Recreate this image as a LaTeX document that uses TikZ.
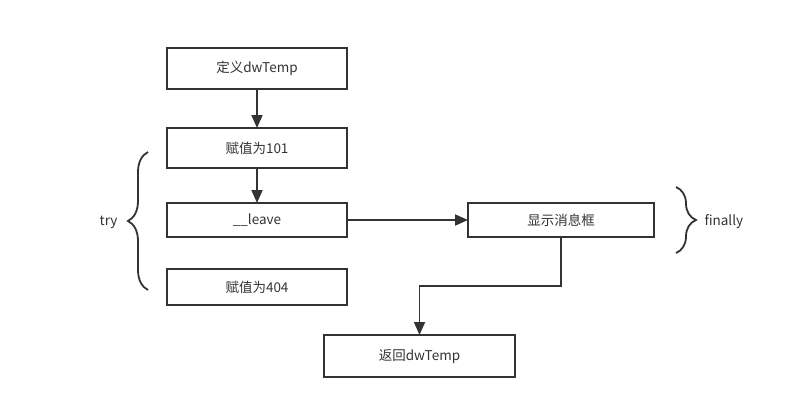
\documentclass[tikz,border=0pt]{standalone}
\usepackage{fontspec}
\setmainfont{Noto Sans CJK SC}
\usepackage{xcolor}
\usetikzlibrary{arrows.meta,positioning,calc,decorations.pathreplacing}
\definecolor{ink}{HTML}{333333}

\begin{document}
\begin{tikzpicture}[
    x=1pt, y=-1pt,
    font=\fontsize{13.5}{16}\selectfont,
    step box/.style={rectangle, draw=ink, line width=1.8pt, text=ink, minimum width=180pt, inner sep=0pt, outer sep=0pt},
    arrow/.style={line width=1.8pt, ink, -{Triangle[length=13pt,width=11pt]}},
    curly/.style={line width=1.8pt, ink, decorate, decoration={brace, amplitude=20pt, aspect=0.5}}
]
\useasboundingbox (0,0) rectangle (806,410);

\node[step box, minimum height=41pt] (define) at (257,68.5) {定义dwTemp};
\node[step box, minimum height=40pt, below=39pt of define] (set101) {赋值为101};
\node[step box, minimum height=34pt, below=35pt of set101] (leave) {\_\_leave};
\node[step box, minimum height=36pt, below=32pt of leave] (set404) {赋值为404};
\node[step box, minimum width=186pt, minimum height=34pt, right=121pt of leave] (msgbox) {显示消息框};
\node[step box, minimum width=191pt, minimum height=42pt, below=98pt of msgbox, xshift=-141.5pt] (return) {返回dwTemp};

\draw[arrow] (define) -- (set101);
\draw[arrow] (set101) -- (leave);
\draw[arrow] (leave) -- (msgbox);
\draw[arrow] (msgbox.south) |- (420,286) -- (420,286 -| return.north) -- (return.north);

% braces
\coordinate (trytop) at (148,152);
\coordinate (trybot) at (148,290);
\coordinate (fintop) at (676,187);
\coordinate (finbot) at (676,253);
\draw[curly] (trybot) -- (trytop);
\draw[curly] (fintop) -- (finbot);
\node[text=ink, anchor=east] (trylabel) at (121,222) {try};
\node[text=ink, anchor=west] (finlabel) at (701,222) {finally};

\end{tikzpicture}
\end{document}
